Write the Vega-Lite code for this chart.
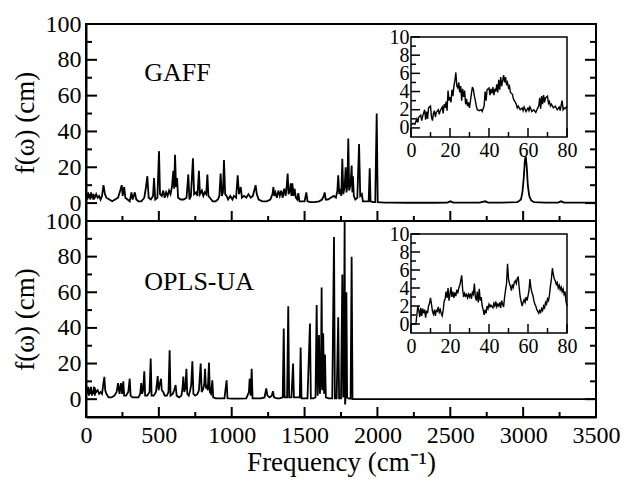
{
  "$schema": "https://vega.github.io/schema/vega-lite/v6.json",
  "padding": {"left": 10, "top": 11, "right": 5, "bottom": 5},
  "bounds": "flush",
  "spacing": 0,
  "datasets": {
    "gaff": [
      {"freq":0,"f":3},{"freq":5,"f":5},{"freq":10,"f":2},{"freq":15,"f":6},{"freq":20,"f":3},{"freq":25,"f":5},{"freq":30,"f":2},{"freq":35,"f":6},{"freq":40,"f":3},{"freq":45,"f":5},{"freq":50,"f":2},{"freq":55,"f":4},{"freq":60,"f":3},{"freq":70,"f":5},{"freq":80,"f":3},{"freq":90,"f":4},{"freq":100,"f":2},{"freq":110,"f":4},{"freq":120,"f":10},{"freq":130,"f":5},{"freq":140,"f":3},{"freq":160,"f":2},{"freq":180,"f":1},{"freq":200,"f":2},{"freq":220,"f":3},{"freq":235,"f":7},{"freq":245,"f":10},{"freq":252,"f":4},{"freq":262,"f":9},{"freq":270,"f":3},{"freq":285,"f":2},{"freq":300,"f":1},{"freq":312,"f":6},{"freq":320,"f":2},{"freq":335,"f":6},{"freq":345,"f":2},{"freq":360,"f":1},{"freq":380,"f":1},{"freq":400,"f":3},{"freq":410,"f":8},{"freq":421,"f":15},{"freq":430,"f":3},{"freq":445,"f":2},{"freq":460,"f":4},{"freq":467,"f":14},{"freq":475,"f":2},{"freq":490,"f":3},{"freq":501,"f":29},{"freq":508,"f":5},{"freq":520,"f":4},{"freq":530,"f":7},{"freq":540,"f":3},{"freq":550,"f":6},{"freq":560,"f":4},{"freq":570,"f":7},{"freq":580,"f":5},{"freq":590,"f":9},{"freq":599,"f":18},{"freq":605,"f":8},{"freq":611,"f":27},{"freq":618,"f":9},{"freq":625,"f":14},{"freq":632,"f":3},{"freq":650,"f":2},{"freq":670,"f":2},{"freq":690,"f":3},{"freq":702,"f":16},{"freq":710,"f":2},{"freq":720,"f":4},{"freq":734,"f":25},{"freq":742,"f":5},{"freq":755,"f":6},{"freq":765,"f":4},{"freq":775,"f":18},{"freq":782,"f":5},{"freq":795,"f":7},{"freq":805,"f":4},{"freq":815,"f":6},{"freq":825,"f":5},{"freq":833,"f":16},{"freq":840,"f":4},{"freq":850,"f":3},{"freq":870,"f":1},{"freq":890,"f":1},{"freq":905,"f":2},{"freq":915,"f":4},{"freq":924,"f":16.5},{"freq":932,"f":4},{"freq":940,"f":6},{"freq":947,"f":24},{"freq":955,"f":5},{"freq":965,"f":4},{"freq":975,"f":2},{"freq":990,"f":4},{"freq":1005,"f":2},{"freq":1015,"f":4},{"freq":1030,"f":3},{"freq":1041,"f":15.5},{"freq":1050,"f":5},{"freq":1062,"f":9},{"freq":1070,"f":3},{"freq":1085,"f":4},{"freq":1100,"f":3},{"freq":1115,"f":5},{"freq":1130,"f":3},{"freq":1145,"f":4},{"freq":1158,"f":8},{"freq":1164,"f":10},{"freq":1172,"f":5},{"freq":1185,"f":2},{"freq":1210,"f":1},{"freq":1240,"f":1},{"freq":1265,"f":2},{"freq":1280,"f":5},{"freq":1286,"f":9},{"freq":1292,"f":4},{"freq":1300,"f":6},{"freq":1310,"f":3},{"freq":1320,"f":7},{"freq":1330,"f":4},{"freq":1340,"f":7},{"freq":1350,"f":3},{"freq":1360,"f":8},{"freq":1370,"f":4},{"freq":1378,"f":10},{"freq":1384,"f":16.5},{"freq":1390,"f":5},{"freq":1400,"f":7},{"freq":1405,"f":11},{"freq":1410,"f":4},{"freq":1416,"f":11},{"freq":1424,"f":4},{"freq":1432,"f":8},{"freq":1440,"f":3},{"freq":1450,"f":2},{"freq":1457,"f":5.5},{"freq":1465,"f":1},{"freq":1480,"f":1},{"freq":1500,"f":1},{"freq":1512,"f":6},{"freq":1520,"f":1},{"freq":1540,"f":0.5},{"freq":1570,"f":0.5},{"freq":1600,"f":1},{"freq":1620,"f":2},{"freq":1632,"f":4},{"freq":1638,"f":6},{"freq":1645,"f":2},{"freq":1660,"f":2},{"freq":1680,"f":3},{"freq":1700,"f":4},{"freq":1715,"f":3},{"freq":1725,"f":7},{"freq":1731,"f":15.5},{"freq":1738,"f":5},{"freq":1745,"f":8},{"freq":1752,"f":4},{"freq":1759,"f":24.8},{"freq":1766,"f":5},{"freq":1775,"f":9},{"freq":1782,"f":20},{"freq":1788,"f":6},{"freq":1794,"f":10},{"freq":1800,"f":36},{"freq":1806,"f":7},{"freq":1815,"f":10},{"freq":1823,"f":21},{"freq":1828,"f":6},{"freq":1832,"f":15},{"freq":1838,"f":4},{"freq":1848,"f":2},{"freq":1862,"f":3},{"freq":1874,"f":33},{"freq":1882,"f":4},{"freq":1893,"f":5},{"freq":1900,"f":1},{"freq":1920,"f":1},{"freq":1940,"f":1},{"freq":1947,"f":19.5},{"freq":1953,"f":1},{"freq":1970,"f":0.5},{"freq":1985,"f":0.5},{"freq":1995,"f":50},{"freq":2002,"f":0.5},{"freq":2050,"f":0.3},{"freq":2100,"f":0.3},{"freq":2200,"f":0.2},{"freq":2300,"f":0.3},{"freq":2400,"f":0.2},{"freq":2480,"f":0.3},{"freq":2500,"f":1},{"freq":2520,"f":0.3},{"freq":2600,"f":0.3},{"freq":2700,"f":0.3},{"freq":2740,"f":1},{"freq":2760,"f":0.3},{"freq":2850,"f":0.3},{"freq":2960,"f":0.5},{"freq":2985,"f":2},{"freq":2995,"f":6},{"freq":3005,"f":15},{"freq":3012,"f":24},{"freq":3018,"f":26},{"freq":3025,"f":20},{"freq":3032,"f":10},{"freq":3042,"f":4},{"freq":3055,"f":1.5},{"freq":3075,"f":0.5},{"freq":3150,"f":0.3},{"freq":3240,"f":0.3},{"freq":3260,"f":1},{"freq":3280,"f":0.3},{"freq":3400,"f":0.3},{"freq":3500,"f":0.3}
    ],
    "opls": [
      {"freq":0,"f":2},{"freq":5,"f":6},{"freq":10,"f":3},{"freq":15,"f":7},{"freq":20,"f":2},{"freq":25,"f":6},{"freq":30,"f":3},{"freq":35,"f":7},{"freq":40,"f":2},{"freq":45,"f":5},{"freq":50,"f":3},{"freq":55,"f":7},{"freq":60,"f":2},{"freq":65,"f":5},{"freq":70,"f":4},{"freq":80,"f":5},{"freq":90,"f":3},{"freq":100,"f":4},{"freq":110,"f":3},{"freq":118,"f":8},{"freq":126,"f":12.5},{"freq":132,"f":5},{"freq":140,"f":3},{"freq":155,"f":1},{"freq":175,"f":1},{"freq":195,"f":2},{"freq":210,"f":4},{"freq":220,"f":9},{"freq":230,"f":3},{"freq":240,"f":9},{"freq":248,"f":3},{"freq":256,"f":10},{"freq":262,"f":2},{"freq":275,"f":2},{"freq":290,"f":4},{"freq":300,"f":11.5},{"freq":306,"f":2},{"freq":320,"f":1},{"freq":340,"f":1},{"freq":360,"f":1},{"freq":372,"f":3},{"freq":379,"f":9},{"freq":385,"f":3},{"freq":392,"f":5},{"freq":400,"f":15.7},{"freq":406,"f":2},{"freq":420,"f":2},{"freq":436,"f":4},{"freq":444,"f":22.8},{"freq":450,"f":2},{"freq":465,"f":2},{"freq":480,"f":4},{"freq":487,"f":9},{"freq":492,"f":13},{"freq":498,"f":5},{"freq":505,"f":8},{"freq":515,"f":11.5},{"freq":520,"f":5},{"freq":530,"f":4},{"freq":540,"f":2},{"freq":555,"f":2},{"freq":566,"f":4},{"freq":574,"f":27.5},{"freq":580,"f":2},{"freq":595,"f":3},{"freq":605,"f":5},{"freq":615,"f":7.9},{"freq":622,"f":2},{"freq":640,"f":1},{"freq":655,"f":2},{"freq":662,"f":6},{"freq":668,"f":12.7},{"freq":674,"f":4},{"freq":682,"f":6},{"freq":689,"f":17},{"freq":695,"f":3},{"freq":705,"f":2},{"freq":715,"f":5},{"freq":722,"f":8},{"freq":730,"f":21.3},{"freq":737,"f":3},{"freq":750,"f":2},{"freq":765,"f":3},{"freq":775,"f":5},{"freq":787,"f":20},{"freq":794,"f":4},{"freq":805,"f":6},{"freq":812,"f":9},{"freq":817,"f":17},{"freq":823,"f":6},{"freq":830,"f":8},{"freq":836,"f":5},{"freq":844,"f":20.5},{"freq":850,"f":4},{"freq":858,"f":3},{"freq":867,"f":10.6},{"freq":873,"f":1},{"freq":890,"f":0.5},{"freq":920,"f":0.5},{"freq":950,"f":0.5},{"freq":965,"f":10.6},{"freq":971,"f":0.5},{"freq":1000,"f":0.3},{"freq":1050,"f":0.3},{"freq":1100,"f":0.5},{"freq":1118,"f":4},{"freq":1123,"f":11.5},{"freq":1130,"f":2},{"freq":1137,"f":17},{"freq":1143,"f":0.5},{"freq":1170,"f":0.5},{"freq":1200,"f":0.5},{"freq":1225,"f":1},{"freq":1237,"f":6},{"freq":1245,"f":2},{"freq":1260,"f":1},{"freq":1275,"f":2},{"freq":1283,"f":4.5},{"freq":1290,"f":1},{"freq":1310,"f":0.5},{"freq":1330,"f":0.5},{"freq":1350,"f":1},{"freq":1357,"f":39.7},{"freq":1363,"f":1},{"freq":1380,"f":1},{"freq":1388,"f":52.2},{"freq":1394,"f":1},{"freq":1410,"f":1},{"freq":1421,"f":20},{"freq":1427,"f":1},{"freq":1450,"f":1},{"freq":1467,"f":1},{"freq":1473,"f":29},{"freq":1479,"f":0.5},{"freq":1500,"f":0.5},{"freq":1520,"f":0.5},{"freq":1537,"f":42.5},{"freq":1543,"f":0.5},{"freq":1560,"f":0.5},{"freq":1575,"f":1},{"freq":1583,"f":52.8},{"freq":1590,"f":2},{"freq":1599,"f":36},{"freq":1605,"f":3},{"freq":1612,"f":10},{"freq":1617,"f":62.7},{"freq":1622,"f":5},{"freq":1628,"f":37},{"freq":1634,"f":3},{"freq":1640,"f":25},{"freq":1646,"f":1},{"freq":1665,"f":0.5},{"freq":1690,"f":0.5},{"freq":1702,"f":91},{"freq":1708,"f":0.5},{"freq":1720,"f":0.5},{"freq":1731,"f":46},{"freq":1737,"f":0.5},{"freq":1750,"f":0.5},{"freq":1759,"f":70},{"freq":1765,"f":1},{"freq":1771,"f":37},{"freq":1775,"f":102},{"freq":1778,"f":-3},{"freq":1783,"f":2},{"freq":1787,"f":60},{"freq":1792,"f":1},{"freq":1805,"f":0.3},{"freq":1816,"f":0.3},{"freq":1823,"f":80},{"freq":1829,"f":0},{"freq":1900,"f":0},{"freq":2500,"f":0},{"freq":3500,"f":0}
    ],
    "gaffInset": [
      {"t":0,"f":0.3},{"t":1,"f":0.5},{"t":2,"f":0.4},{"t":3,"f":1.0},{"t":3.5,"f":0.6},{"t":4,"f":1.2},{"t":5,"f":1.4},{"t":5.5,"f":0.8},{"t":6,"f":1.3},{"t":7,"f":2.0},{"t":7.5,"f":0.9},{"t":8,"f":1.8},{"t":8.5,"f":1.0},{"t":9,"f":2.2},{"t":10,"f":2.4},{"t":10.5,"f":1.2},{"t":11,"f":0.8},{"t":11.5,"f":1.6},{"t":12,"f":1.9},{"t":12.5,"f":1.2},{"t":13,"f":1.7},{"t":14,"f":2.0},{"t":14.5,"f":1.5},{"t":15,"f":1.9},{"t":16,"f":2.3},{"t":16.5,"f":1.6},{"t":17,"f":2.6},{"t":17.5,"f":2.2},{"t":18,"f":2.9},{"t":18.5,"f":1.9},{"t":19,"f":4.1},{"t":19.5,"f":3.0},{"t":20,"f":3.4},{"t":20.5,"f":2.8},{"t":21,"f":4.2},{"t":21.5,"f":3.5},{"t":22,"f":4.6},{"t":22.5,"f":5.2},{"t":23,"f":6.1},{"t":23.5,"f":4.6},{"t":24,"f":4.4},{"t":24.5,"f":5.0},{"t":25,"f":3.9},{"t":25.5,"f":4.6},{"t":26,"f":3.0},{"t":26.5,"f":4.3},{"t":27,"f":3.4},{"t":27.5,"f":4.1},{"t":28,"f":2.6},{"t":28.5,"f":3.2},{"t":29,"f":2.4},{"t":29.5,"f":2.8},{"t":30,"f":2.2},{"t":30.5,"f":3.0},{"t":31,"f":3.8},{"t":31.5,"f":4.5},{"t":32,"f":4.2},{"t":32.5,"f":3.5},{"t":33,"f":3.0},{"t":33.5,"f":2.4},{"t":34,"f":2.0},{"t":35,"f":1.9},{"t":36,"f":2.0},{"t":36.5,"f":1.8},{"t":37,"f":2.1},{"t":37.5,"f":2.4},{"t":38,"f":4.0},{"t":38.5,"f":3.0},{"t":39,"f":4.2},{"t":40,"f":4.4},{"t":40.5,"f":3.6},{"t":41,"f":4.3},{"t":41.5,"f":3.8},{"t":42,"f":4.5},{"t":42.5,"f":3.6},{"t":43,"f":4.3},{"t":43.5,"f":4.0},{"t":44,"f":4.8},{"t":44.5,"f":3.9},{"t":45,"f":5.3},{"t":45.5,"f":4.2},{"t":46,"f":5.6},{"t":46.5,"f":4.6},{"t":47,"f":5.2},{"t":47.5,"f":5.8},{"t":48,"f":5.0},{"t":48.5,"f":5.6},{"t":49,"f":4.7},{"t":49.5,"f":5.0},{"t":50,"f":4.4},{"t":50.5,"f":4.6},{"t":51,"f":3.9},{"t":52,"f":3.7},{"t":52.5,"f":3.2},{"t":53,"f":3.0},{"t":54,"f":2.6},{"t":54.5,"f":2.2},{"t":55,"f":2.4},{"t":56,"f":2.0},{"t":57,"f":2.2},{"t":57.5,"f":1.9},{"t":58,"f":2.3},{"t":59,"f":1.8},{"t":60,"f":2.2},{"t":60.5,"f":1.9},{"t":61,"f":2.3},{"t":62,"f":1.8},{"t":63,"f":2.0},{"t":64,"f":1.7},{"t":65,"f":2.2},{"t":65.5,"f":2.4},{"t":66,"f":3.3},{"t":66.5,"f":2.1},{"t":67,"f":3.5},{"t":67.5,"f":2.6},{"t":68,"f":3.6},{"t":68.5,"f":2.8},{"t":69,"f":3.3},{"t":70,"f":3.5},{"t":70.5,"f":2.7},{"t":71,"f":2.9},{"t":71.5,"f":2.4},{"t":72,"f":2.6},{"t":73,"f":2.2},{"t":74,"f":2.4},{"t":75,"f":2.0},{"t":76,"f":2.3},{"t":76.5,"f":1.9},{"t":77,"f":2.5},{"t":77.5,"f":3.0},{"t":78,"f":2.0},{"t":78.5,"f":2.2},{"t":79,"f":2.1},{"t":80,"f":2.4}
    ],
    "oplsInset": [
      {"t":0,"f":0},{"t":2.5,"f":0},{"t":3,"f":1.0},{"t":3.5,"f":2.0},{"t":4,"f":1.5},{"t":4.5,"f":0.8},{"t":5,"f":1.8},{"t":5.5,"f":0.9},{"t":6,"f":1.7},{"t":6.5,"f":1.2},{"t":7,"f":1.6},{"t":7.5,"f":0.7},{"t":8,"f":1.5},{"t":8.5,"f":1.2},{"t":9,"f":2.0},{"t":9.5,"f":2.3},{"t":10,"f":2.9},{"t":10.5,"f":2.2},{"t":11,"f":1.4},{"t":11.5,"f":1.1},{"t":12,"f":1.6},{"t":12.5,"f":0.9},{"t":13,"f":1.5},{"t":13.5,"f":1.4},{"t":14,"f":1.9},{"t":14.5,"f":1.3},{"t":15,"f":1.6},{"t":15.5,"f":1.2},{"t":16,"f":0.9},{"t":16.5,"f":1.5},{"t":17,"f":2.5},{"t":17.5,"f":2.8},{"t":18,"f":3.6},{"t":18.5,"f":2.9},{"t":19,"f":4.0},{"t":19.5,"f":2.6},{"t":20,"f":3.3},{"t":20.5,"f":4.1},{"t":21,"f":3.0},{"t":21.5,"f":3.6},{"t":22,"f":2.9},{"t":22.5,"f":3.5},{"t":23,"f":3.1},{"t":23.5,"f":3.8},{"t":24,"f":3.4},{"t":24.5,"f":4.0},{"t":25,"f":4.3},{"t":25.5,"f":4.8},{"t":26,"f":5.4},{"t":26.5,"f":3.8},{"t":27,"f":3.0},{"t":27.5,"f":3.4},{"t":28,"f":3.1},{"t":28.5,"f":3.3},{"t":29,"f":2.9},{"t":29.5,"f":3.3},{"t":30,"f":3.0},{"t":30.5,"f":3.4},{"t":31,"f":2.8},{"t":31.5,"f":3.5},{"t":32,"f":3.3},{"t":32.5,"f":4.5},{"t":33,"f":3.0},{"t":33.5,"f":2.6},{"t":34,"f":3.6},{"t":34.5,"f":2.4},{"t":35,"f":3.9},{"t":35.5,"f":2.6},{"t":36,"f":3.0},{"t":36.5,"f":2.0},{"t":37,"f":1.6},{"t":37.5,"f":1.0},{"t":38,"f":1.6},{"t":38.5,"f":1.2},{"t":39,"f":2.0},{"t":39.5,"f":1.7},{"t":40,"f":2.2},{"t":40.5,"f":1.9},{"t":41,"f":2.1},{"t":42,"f":1.8},{"t":42.5,"f":2.3},{"t":43,"f":2.0},{"t":43.5,"f":2.5},{"t":44,"f":1.9},{"t":44.5,"f":2.2},{"t":45,"f":2.0},{"t":45.5,"f":2.4},{"t":46,"f":1.8},{"t":46.5,"f":2.6},{"t":47,"f":2.2},{"t":47.5,"f":1.9},{"t":48,"f":3.0},{"t":48.5,"f":3.8},{"t":49,"f":4.5},{"t":49.5,"f":6.7},{"t":50,"f":5.0},{"t":50.5,"f":4.5},{"t":51,"f":4.2},{"t":51.5,"f":3.7},{"t":52,"f":4.4},{"t":52.5,"f":4.1},{"t":53,"f":4.6},{"t":53.5,"f":4.8},{"t":54,"f":4.5},{"t":54.5,"f":5.1},{"t":55,"f":5.2},{"t":55.5,"f":4.0},{"t":56,"f":3.0},{"t":56.5,"f":2.5},{"t":57,"f":2.0},{"t":57.5,"f":2.4},{"t":58,"f":2.7},{"t":58.5,"f":2.4},{"t":59,"f":3.0},{"t":59.5,"f":2.6},{"t":60,"f":3.1},{"t":60.5,"f":3.7},{"t":61,"f":5.0},{"t":61.5,"f":4.0},{"t":62,"f":3.5},{"t":62.5,"f":3.2},{"t":63,"f":2.6},{"t":63.5,"f":2.2},{"t":64,"f":2.0},{"t":64.5,"f":1.6},{"t":65,"f":1.4},{"t":65.5,"f":1.2},{"t":66,"f":1.5},{"t":66.5,"f":1.3},{"t":67,"f":1.7},{"t":67.5,"f":1.5},{"t":68,"f":2.0},{"t":68.5,"f":1.8},{"t":69,"f":2.4},{"t":69.5,"f":2.2},{"t":70,"f":2.8},{"t":70.5,"f":2.6},{"t":71,"f":3.2},{"t":71.5,"f":4.2},{"t":72,"f":5.0},{"t":72.5,"f":6.2},{"t":73,"f":5.5},{"t":73.5,"f":5.0},{"t":74,"f":4.8},{"t":74.5,"f":4.4},{"t":75,"f":4.6},{"t":75.5,"f":4.0},{"t":76,"f":4.3},{"t":76.5,"f":3.8},{"t":77,"f":4.1},{"t":77.5,"f":3.6},{"t":78,"f":3.9},{"t":78.5,"f":3.3},{"t":79,"f":3.6},{"t":79.5,"f":2.5},{"t":80,"f":2.0}
    ],
    "xMajor": [{"v":0},{"v":500},{"v":1000},{"v":1500},{"v":2000},{"v":2500},{"v":3000},{"v":3500}],
    "xMinor": [{"v":250},{"v":750},{"v":1250},{"v":1750},{"v":2250},{"v":2750},{"v":3250}],
    "yMajor": [{"v":0},{"v":20},{"v":40},{"v":60},{"v":80},{"v":100}],
    "yMinor": [{"v":10},{"v":30},{"v":50},{"v":70},{"v":90}],
    "ixMajor": [{"v":0},{"v":20},{"v":40},{"v":60},{"v":80}],
    "ixMinor": [{"v":10},{"v":30},{"v":50},{"v":70}],
    "iyMajor": [{"v":0},{"v":2},{"v":4},{"v":6},{"v":8},{"v":10}],
    "iyMinor": [{"v":1},{"v":3},{"v":5},{"v":7},{"v":9}]
  },
  "vconcat": [
    {
      "width": 510, "height": 197,
      "layer": [
        {"data": {"name": "gaff"}, "mark": {"type": "line", "color": "black", "strokeWidth": 1.8, "clip": true},
         "encoding": {
           "x": {"field": "freq", "type": "quantitative", "scale": {"domain": [0, 3500], "nice": false, "zero": false}, "axis": null},
           "y": {"field": "f", "type": "quantitative", "scale": {"domain": [-10, 100], "nice": false, "zero": false},
                 "axis": {"orient": "left", "values": [0,20,40,60,80,100], "ticks": false, "domainColor": "black", "domainWidth": 2, "tickSize": 0, "labelPadding": 5, "title": "f(ω) (cm)", "titlePadding": 6}}
         }},
        {"data": {"values": [{"label": "GAFF"}]}, "mark": {"type": "text", "align": "left", "baseline": "alphabetic", "fontSize": 26, "font": "Liberation Serif", "color": "black"},
         "encoding": {
           "text": {"field": "label"},
           "x": {"datum": 400, "type": "quantitative", "scale": {"domain": [0, 3500], "nice": false, "zero": false}, "axis": null},
           "y": {"datum": 68, "type": "quantitative", "scale": {"domain": [-10, 100], "nice": false, "zero": false}, "axis": null}
         }},
        {"data": {"name": "xMajor"}, "mark": {"type": "tick", "orient": "vertical", "size": 20, "thickness": 2, "color": "black", "opacity": 1, "clip": true},
         "encoding": {
           "x": {"field": "v", "type": "quantitative", "scale": {"domain": [0, 3500], "nice": false, "zero": false}, "axis": null},
           "y": {"datum": -10, "type": "quantitative", "scale": {"domain": [-10, 100], "nice": false, "zero": false}, "axis": null}
         }},
        {"data": {"name": "xMinor"}, "mark": {"type": "tick", "orient": "vertical", "size": 10, "thickness": 2, "color": "black", "opacity": 1, "clip": true},
         "encoding": {
           "x": {"field": "v", "type": "quantitative", "scale": {"domain": [0, 3500], "nice": false, "zero": false}, "axis": null},
           "y": {"datum": -10, "type": "quantitative", "scale": {"domain": [-10, 100], "nice": false, "zero": false}, "axis": null}
         }},
        {"data": {"name": "yMajor"}, "mark": {"type": "tick", "orient": "horizontal", "size": 22, "thickness": 2, "color": "black", "opacity": 1, "clip": true},
         "encoding": {
           "x": {"datum": 0, "type": "quantitative", "scale": {"domain": [0, 3500], "nice": false, "zero": false}, "axis": null},
           "y": {"field": "v", "type": "quantitative", "scale": {"domain": [-10, 100], "nice": false, "zero": false}, "axis": null}
         }},
        {"data": {"name": "yMinor"}, "mark": {"type": "tick", "orient": "horizontal", "size": 12, "thickness": 2, "color": "black", "opacity": 1, "clip": true},
         "encoding": {
           "x": {"datum": 0, "type": "quantitative", "scale": {"domain": [0, 3500], "nice": false, "zero": false}, "axis": null},
           "y": {"field": "v", "type": "quantitative", "scale": {"domain": [-10, 100], "nice": false, "zero": false}, "axis": null}
         }},
        {"data": {"name": "yMajor"}, "mark": {"type": "tick", "orient": "horizontal", "size": 22, "thickness": 2, "color": "black", "opacity": 1, "clip": true},
         "encoding": {
           "x": {"datum": 3500, "type": "quantitative", "scale": {"domain": [0, 3500], "nice": false, "zero": false}, "axis": null},
           "y": {"field": "v", "type": "quantitative", "scale": {"domain": [-10, 100], "nice": false, "zero": false}, "axis": null}
         }},
        {"data": {"name": "yMinor"}, "mark": {"type": "tick", "orient": "horizontal", "size": 12, "thickness": 2, "color": "black", "opacity": 1, "clip": true},
         "encoding": {
           "x": {"datum": 3500, "type": "quantitative", "scale": {"domain": [0, 3500], "nice": false, "zero": false}, "axis": null},
           "y": {"field": "v", "type": "quantitative", "scale": {"domain": [-10, 100], "nice": false, "zero": false}, "axis": null}
         }},
        {"data": {"values": [{}]}, "mark": {"type": "rect", "fillOpacity": 0, "stroke": "black", "strokeWidth": 1.5},
         "encoding": {
           "x": {"datum": 0, "type": "quantitative", "scale": {"domain": [0, 80], "range": [325, 481], "nice": false, "zero": false}, "axis": null},
           "x2": {"datum": 80},
           "y": {"datum": -1, "type": "quantitative", "scale": {"domain": [-1, 10], "range": [113, 13], "nice": false, "zero": false}, "axis": null},
           "y2": {"datum": 10}
         }},
        {"data": {"name": "gaffInset"}, "mark": {"type": "line", "color": "black", "strokeWidth": 1.4},
         "encoding": {
           "x": {"field": "t", "type": "quantitative", "scale": {"domain": [0, 80], "range": [325, 481], "nice": false, "zero": false},
                 "axis": {"orient": "bottom", "offset": -84, "values": [0,20,40,60,80], "ticks": false, "domain": false, "tickSize": 0, "labelFontSize": 20, "labelPadding": 3, "labelFlush": false, "title": null}},
           "y": {"field": "f", "type": "quantitative", "scale": {"domain": [-1, 10], "range": [113, 13], "nice": false, "zero": false},
                 "axis": {"orient": "left", "offset": -325, "values": [0,4,8], "ticks": false, "domain": false, "tickSize": 0, "labelFontSize": 20, "labelPadding": 2, "title": null}}
         }},
        {"data": {"values": [{}]}, "mark": {"type": "point", "opacity": 0},
         "encoding": {
           "x": {"datum": 0, "type": "quantitative", "scale": {"domain": [0, 80], "range": [325, 481], "nice": false, "zero": false}, "axis": null},
           "y": {"datum": 0, "type": "quantitative", "scale": {"domain": [-1, 10], "range": [113, 13], "nice": false, "zero": false},
                 "axis": {"orient": "left", "offset": -325, "values": [2,6,10], "ticks": false, "domain": false, "tickSize": 0, "labelFontSize": 20, "labelPadding": 2, "title": null}}
         }},
        {"data": {"name": "ixMajor"}, "mark": {"type": "tick", "orient": "vertical", "size": 9, "thickness": 1.5, "color": "black", "opacity": 1, "yOffset": -4.5},
         "encoding": {
           "x": {"field": "v", "type": "quantitative", "scale": {"domain": [0, 80], "range": [325, 481], "nice": false, "zero": false}, "axis": null},
           "y": {"datum": -1, "type": "quantitative", "scale": {"domain": [-1, 10], "range": [113, 13], "nice": false, "zero": false}, "axis": null}
         }},
        {"data": {"name": "ixMinor"}, "mark": {"type": "tick", "orient": "vertical", "size": 5, "thickness": 1.5, "color": "black", "opacity": 1, "yOffset": -2.5},
         "encoding": {
           "x": {"field": "v", "type": "quantitative", "scale": {"domain": [0, 80], "range": [325, 481], "nice": false, "zero": false}, "axis": null},
           "y": {"datum": -1, "type": "quantitative", "scale": {"domain": [-1, 10], "range": [113, 13], "nice": false, "zero": false}, "axis": null}
         }},
        {"data": {"name": "iyMajor"}, "mark": {"type": "tick", "orient": "horizontal", "size": 9, "thickness": 1.5, "color": "black", "opacity": 1, "xOffset": 4.5},
         "encoding": {
           "x": {"datum": 0, "type": "quantitative", "scale": {"domain": [0, 80], "range": [325, 481], "nice": false, "zero": false}, "axis": null},
           "y": {"field": "v", "type": "quantitative", "scale": {"domain": [-1, 10], "range": [113, 13], "nice": false, "zero": false}, "axis": null}
         }},
        {"data": {"name": "iyMinor"}, "mark": {"type": "tick", "orient": "horizontal", "size": 5, "thickness": 1.5, "color": "black", "opacity": 1, "xOffset": 2.5},
         "encoding": {
           "x": {"datum": 0, "type": "quantitative", "scale": {"domain": [0, 80], "range": [325, 481], "nice": false, "zero": false}, "axis": null},
           "y": {"field": "v", "type": "quantitative", "scale": {"domain": [-1, 10], "range": [113, 13], "nice": false, "zero": false}, "axis": null}
         }}
      ],
      "resolve": {"scale": {"x": "independent", "y": "independent"}}
    },
    {
      "width": 510, "height": 196,
      "layer": [
        {"data": {"name": "opls"}, "mark": {"type": "line", "color": "black", "strokeWidth": 1.8, "clip": true},
         "encoding": {
           "x": {"field": "freq", "type": "quantitative", "scale": {"domain": [0, 3500], "nice": false, "zero": false},
                 "axis": {"orient": "bottom", "values": [0,500,1000,1500,2000,2500,3000,3500], "format": "d", "ticks": false, "domainColor": "black", "domainWidth": 2, "tickSize": 0, "labelPadding": 6, "labelFlush": false, "title": "Frequency (cm⁻¹)", "titlePadding": 2}},
           "y": {"field": "f", "type": "quantitative", "scale": {"domain": [-10, 100], "nice": false, "zero": false},
                 "axis": {"orient": "left", "values": [0,20,40,60,80,100], "ticks": false, "domainColor": "black", "domainWidth": 2, "tickSize": 0, "labelPadding": 5, "title": "f(ω) (cm)", "titlePadding": 6}}
         }},
        {"data": {"values": [{"label": "OPLS-UA"}]}, "mark": {"type": "text", "align": "left", "baseline": "alphabetic", "fontSize": 26, "font": "Liberation Serif", "color": "black"},
         "encoding": {
           "text": {"field": "label"},
           "x": {"datum": 400, "type": "quantitative", "scale": {"domain": [0, 3500], "nice": false, "zero": false}, "axis": null},
           "y": {"datum": 61.5, "type": "quantitative", "scale": {"domain": [-10, 100], "nice": false, "zero": false}, "axis": null}
         }},
        {"data": {"name": "xMajor"}, "mark": {"type": "tick", "orient": "vertical", "size": 20, "thickness": 2, "color": "black", "opacity": 1, "clip": true},
         "encoding": {
           "x": {"field": "v", "type": "quantitative", "scale": {"domain": [0, 3500], "nice": false, "zero": false}, "axis": null},
           "y": {"datum": -10, "type": "quantitative", "scale": {"domain": [-10, 100], "nice": false, "zero": false}, "axis": null}
         }},
        {"data": {"name": "xMinor"}, "mark": {"type": "tick", "orient": "vertical", "size": 10, "thickness": 2, "color": "black", "opacity": 1, "clip": true},
         "encoding": {
           "x": {"field": "v", "type": "quantitative", "scale": {"domain": [0, 3500], "nice": false, "zero": false}, "axis": null},
           "y": {"datum": -10, "type": "quantitative", "scale": {"domain": [-10, 100], "nice": false, "zero": false}, "axis": null}
         }},
        {"data": {"name": "yMajor"}, "mark": {"type": "tick", "orient": "horizontal", "size": 22, "thickness": 2, "color": "black", "opacity": 1, "clip": true},
         "encoding": {
           "x": {"datum": 0, "type": "quantitative", "scale": {"domain": [0, 3500], "nice": false, "zero": false}, "axis": null},
           "y": {"field": "v", "type": "quantitative", "scale": {"domain": [-10, 100], "nice": false, "zero": false}, "axis": null}
         }},
        {"data": {"name": "yMinor"}, "mark": {"type": "tick", "orient": "horizontal", "size": 12, "thickness": 2, "color": "black", "opacity": 1, "clip": true},
         "encoding": {
           "x": {"datum": 0, "type": "quantitative", "scale": {"domain": [0, 3500], "nice": false, "zero": false}, "axis": null},
           "y": {"field": "v", "type": "quantitative", "scale": {"domain": [-10, 100], "nice": false, "zero": false}, "axis": null}
         }},
        {"data": {"name": "yMajor"}, "mark": {"type": "tick", "orient": "horizontal", "size": 22, "thickness": 2, "color": "black", "opacity": 1, "clip": true},
         "encoding": {
           "x": {"datum": 3500, "type": "quantitative", "scale": {"domain": [0, 3500], "nice": false, "zero": false}, "axis": null},
           "y": {"field": "v", "type": "quantitative", "scale": {"domain": [-10, 100], "nice": false, "zero": false}, "axis": null}
         }},
        {"data": {"name": "yMinor"}, "mark": {"type": "tick", "orient": "horizontal", "size": 12, "thickness": 2, "color": "black", "opacity": 1, "clip": true},
         "encoding": {
           "x": {"datum": 3500, "type": "quantitative", "scale": {"domain": [0, 3500], "nice": false, "zero": false}, "axis": null},
           "y": {"field": "v", "type": "quantitative", "scale": {"domain": [-10, 100], "nice": false, "zero": false}, "axis": null}
         }},
        {"data": {"values": [{}]}, "mark": {"type": "rect", "fillOpacity": 0, "stroke": "black", "strokeWidth": 1.5},
         "encoding": {
           "x": {"datum": 0, "type": "quantitative", "scale": {"domain": [0, 80], "range": [325, 481], "nice": false, "zero": false}, "axis": null},
           "x2": {"datum": 80},
           "y": {"datum": -1, "type": "quantitative", "scale": {"domain": [-1, 10], "range": [112, 13], "nice": false, "zero": false}, "axis": null},
           "y2": {"datum": 10}
         }},
        {"data": {"name": "oplsInset"}, "mark": {"type": "line", "color": "black", "strokeWidth": 1.4},
         "encoding": {
           "x": {"field": "t", "type": "quantitative", "scale": {"domain": [0, 80], "range": [325, 481], "nice": false, "zero": false},
                 "axis": {"orient": "bottom", "offset": -84, "values": [0,20,40,60,80], "ticks": false, "domain": false, "tickSize": 0, "labelFontSize": 20, "labelPadding": 3, "labelFlush": false, "title": null}},
           "y": {"field": "f", "type": "quantitative", "scale": {"domain": [-1, 10], "range": [112, 13], "nice": false, "zero": false},
                 "axis": {"orient": "left", "offset": -325, "values": [0,4,8], "ticks": false, "domain": false, "tickSize": 0, "labelFontSize": 20, "labelPadding": 2, "title": null}}
         }},
        {"data": {"values": [{}]}, "mark": {"type": "point", "opacity": 0},
         "encoding": {
           "x": {"datum": 0, "type": "quantitative", "scale": {"domain": [0, 80], "range": [325, 481], "nice": false, "zero": false}, "axis": null},
           "y": {"datum": 0, "type": "quantitative", "scale": {"domain": [-1, 10], "range": [112, 13], "nice": false, "zero": false},
                 "axis": {"orient": "left", "offset": -325, "values": [2,6,10], "ticks": false, "domain": false, "tickSize": 0, "labelFontSize": 20, "labelPadding": 2, "title": null}}
         }},
        {"data": {"name": "ixMajor"}, "mark": {"type": "tick", "orient": "vertical", "size": 9, "thickness": 1.5, "color": "black", "opacity": 1, "yOffset": -4.5},
         "encoding": {
           "x": {"field": "v", "type": "quantitative", "scale": {"domain": [0, 80], "range": [325, 481], "nice": false, "zero": false}, "axis": null},
           "y": {"datum": -1, "type": "quantitative", "scale": {"domain": [-1, 10], "range": [112, 13], "nice": false, "zero": false}, "axis": null}
         }},
        {"data": {"name": "ixMinor"}, "mark": {"type": "tick", "orient": "vertical", "size": 5, "thickness": 1.5, "color": "black", "opacity": 1, "yOffset": -2.5},
         "encoding": {
           "x": {"field": "v", "type": "quantitative", "scale": {"domain": [0, 80], "range": [325, 481], "nice": false, "zero": false}, "axis": null},
           "y": {"datum": -1, "type": "quantitative", "scale": {"domain": [-1, 10], "range": [112, 13], "nice": false, "zero": false}, "axis": null}
         }},
        {"data": {"name": "iyMajor"}, "mark": {"type": "tick", "orient": "horizontal", "size": 9, "thickness": 1.5, "color": "black", "opacity": 1, "xOffset": 4.5},
         "encoding": {
           "x": {"datum": 0, "type": "quantitative", "scale": {"domain": [0, 80], "range": [325, 481], "nice": false, "zero": false}, "axis": null},
           "y": {"field": "v", "type": "quantitative", "scale": {"domain": [-1, 10], "range": [112, 13], "nice": false, "zero": false}, "axis": null}
         }},
        {"data": {"name": "iyMinor"}, "mark": {"type": "tick", "orient": "horizontal", "size": 5, "thickness": 1.5, "color": "black", "opacity": 1, "xOffset": 2.5},
         "encoding": {
           "x": {"datum": 0, "type": "quantitative", "scale": {"domain": [0, 80], "range": [325, 481], "nice": false, "zero": false}, "axis": null},
           "y": {"field": "v", "type": "quantitative", "scale": {"domain": [-1, 10], "range": [112, 13], "nice": false, "zero": false}, "axis": null}
         }}
      ],
      "resolve": {"scale": {"x": "independent", "y": "independent"}}
    }
  ],
  "config": {
    "view": {"stroke": "black", "strokeWidth": 2},
    "font": "Liberation Serif",
    "axis": {"labelFont": "Liberation Serif", "labelFontSize": 24, "labelColor": "black", "titleFont": "Liberation Serif", "titleFontSize": 27, "titleFontWeight": "normal", "titleColor": "black", "grid": false}
  }
}
